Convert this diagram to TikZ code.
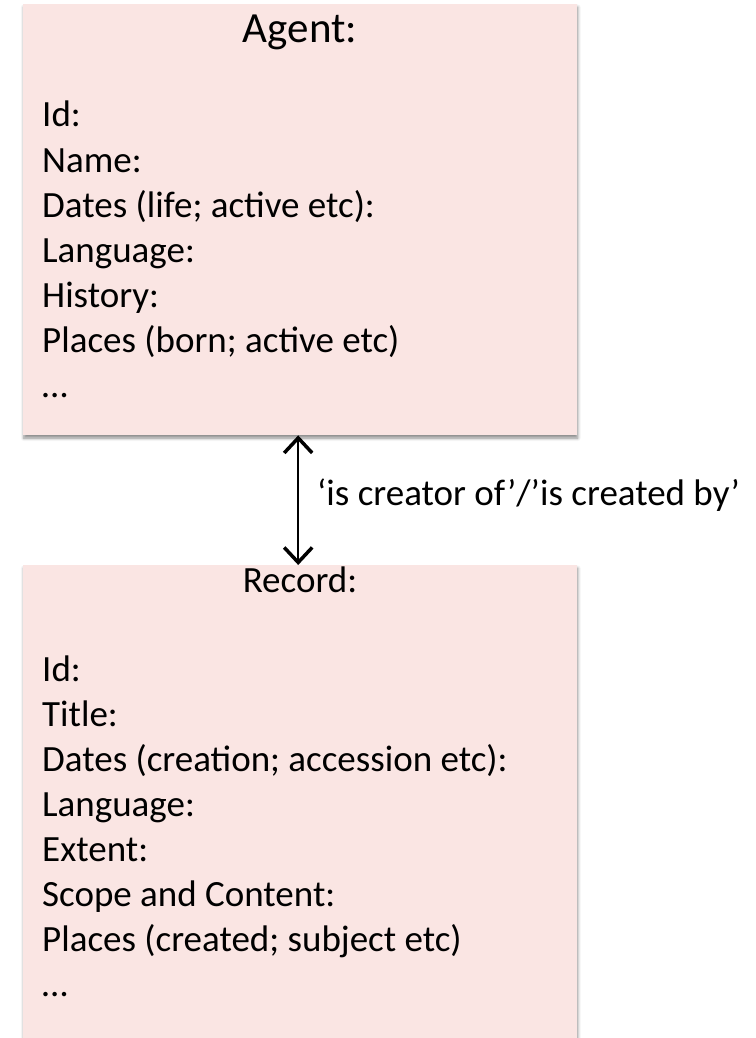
\documentclass[tikz,border=0pt]{standalone}
\usepackage{fontspec}
\setmainfont{Carlito}
\usetikzlibrary{arrows.meta,shadows.blur}
\definecolor{cardpink}{RGB}{250,229,227}
\begin{document}
\begin{tikzpicture}[x=1pt,y=-1pt,
  card/.style={draw=none, fill=cardpink, inner sep=0pt, anchor=north west,
    blur shadow={shadow xshift=0.6pt, shadow yshift=-3pt, shadow blur radius=3pt,
      shadow blur steps=6, shadow opacity=45}},
  heading/.style={anchor=base, inner sep=0pt},
  field/.style={font=\fontsize{37}{45}\selectfont, anchor=base west, inner sep=0pt},
  barb/.tip={Straight Barb[length=15pt,width=28pt,line width=3.5pt]},
  link/.style={line width=1.5pt, barb-barb}
]
\clip (0,0) rectangle (755,1038);

% the two record cards
\node[card, minimum width=554pt, minimum height=431pt] (agent) at (23,4) {};
\node[card, minimum width=554pt, minimum height=520pt] (record) at (23,565) {};

% agent card
\node[heading, font=\fontsize{43}{50}\selectfont] (agent-title) at (300,43) {Agent:};
\foreach \t [count=\i] in {Id:, Name:, {Dates (life; active etc):}, Language:,
    History:, {Places (born; active etc)}, …}
  \node[field] (agent-\i) at (42,82+45*\i) {\t};

% record card
\node[heading, font=\fontsize{37}{45}\selectfont] (record-title) at (300,592) {Record:};
\foreach \t [count=\i] in {Id:, Title:, {Dates (creation; accession etc):}, Language:,
    Extent:, Scope and Content:, {Places (created; subject etc)}, …}
  \node[field] (record-\i) at (42,636+45*\i) {\t};

% relation between the cards
\draw[link] ([xshift=-2pt]agent.south) -- ([xshift=-2pt]record.north);
\node[field] (rel) at (317,505) {‘is creator of’/’is created by’};
\end{tikzpicture}
\end{document}
